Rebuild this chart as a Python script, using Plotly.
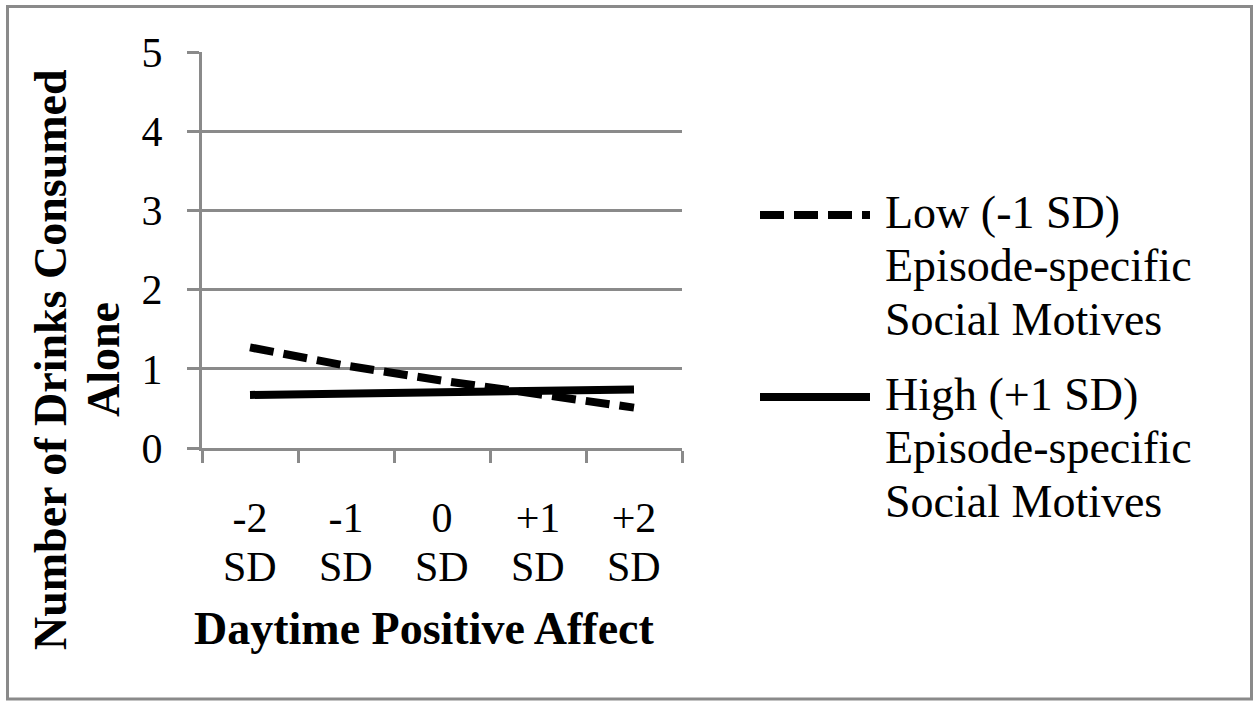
import plotly.graph_objects as go

# ---- data ----
categories = ["-2 SD", "-1 SD", "0 SD", "+1 SD", "+2 SD"]
low_social = [1.27, 1.04, 0.85, 0.67, 0.51]
high_social = [0.67, 0.69, 0.71, 0.72, 0.74]
series_names = ["Low (-1 SD)<br>Episode-specific<br>Social Motives",
                "High (+1 SD)<br>Episode-specific<br>Social Motives"]
y_ticks = [0, 1, 2, 3, 4, 5]
x_title = "Daytime Positive Affect"
y_title_lines = ["Number of Drinks Consumed", "Alone"]

# ---- layout helpers (pixel -> paper) ----
W, H = 1260, 707
L, R, T, B = 202, 682, 52, 448
def px(x):
    return (x - L) / (R - L)
def py(y):
    return (B - y) / (B - T)

FONT = "Liberation Serif"
GRID = "#8a8a8a"

fig = go.Figure()
fig.add_trace(go.Scatter(x=categories, y=low_social, mode="lines",
                         line=dict(color="black", width=8, dash="24px,10px"),
                         showlegend=False))
fig.add_trace(go.Scatter(x=categories, y=high_social, mode="lines",
                         line=dict(color="black", width=8),
                         showlegend=False))

top_row = [c.split(" ")[0] for c in categories]
bottom_row = [c.split(" ")[1] for c in categories]

fig.update_xaxes(type="category", range=[-0.5, len(categories) - 0.5],
                 tickmode="array", tickvals=categories, ticktext=top_row,
                 tickson="boundaries", ticks="outside", ticklen=12, tickwidth=3,
                 tickcolor=GRID, showline=True, linecolor=GRID, linewidth=3,
                 showgrid=False, zeroline=False,
                 tickfont=dict(family=FONT, size=42, color="black"),
                 ticklabelstandoff=31)
fig.update_yaxes(range=[0, 5], tickvals=y_ticks, ticks="outside", ticklen=12,
                 tickwidth=3, tickcolor=GRID, showline=True, linecolor=GRID,
                 linewidth=3, showgrid=True, gridcolor=GRID, gridwidth=3,
                 zeroline=False, tickfont=dict(family=FONT, size=42, color="black"),
                 ticklabelstandoff=16)

ann = []
for c, s in zip(categories, bottom_row):
    ann.append(dict(x=c, xref="x", y=py(567), yref="paper", text=s,
                    showarrow=False, xanchor="center", yanchor="middle",
                    font=dict(family=FONT, size=42, color="black")))
ann.append(dict(x=px(424), y=py(628), xref="paper", yref="paper",
                text="<b>" + x_title + "</b>", showarrow=False,
                xanchor="center", yanchor="middle",
                font=dict(family=FONT, size=46, color="black")))
for xc, line in zip([50, 103], y_title_lines):
    ann.append(dict(x=px(xc), y=py(360), xref="paper", yref="paper",
                    text="<b>" + line + "</b>", showarrow=False, textangle=-90,
                    xanchor="center", yanchor="middle",
                    font=dict(family=FONT, size=46, color="black")))

# legend drawn manually
legend_y = [215, 397]
dashes = ["24px,10px", "solid"]
shapes = []
for name, ly, d in zip(series_names, legend_y, dashes):
    shapes.append(dict(type="line", xref="paper", yref="paper",
                       x0=px(760), x1=px(870), y0=py(ly), y1=py(ly),
                       line=dict(color="black", width=8, dash=d)))
    for i, line in enumerate(name.split("<br>")):
        ann.append(dict(x=px(883), y=py(ly - 3 + i * 53.5), xref="paper", yref="paper",
                        text=line, showarrow=False, xanchor="left", yanchor="middle",
                        font=dict(family=FONT, size=46, color="black")))

shapes.append(dict(type="rect", xref="paper", yref="paper",
                   x0=px(7.5), x1=px(1251.5), y0=py(6.5), y1=py(699),
                   line=dict(color=GRID, width=3)))

fig.update_layout(width=W, height=H, margin=dict(l=L, r=W - R, t=T, b=H - B),
                  paper_bgcolor="white", plot_bgcolor="white",
                  annotations=ann, shapes=shapes, showlegend=False)

fig.write_html("out.html", config={"displayModeBar": False},
               post_script="document.body.style.margin='0';document.body.style.padding='0';")
